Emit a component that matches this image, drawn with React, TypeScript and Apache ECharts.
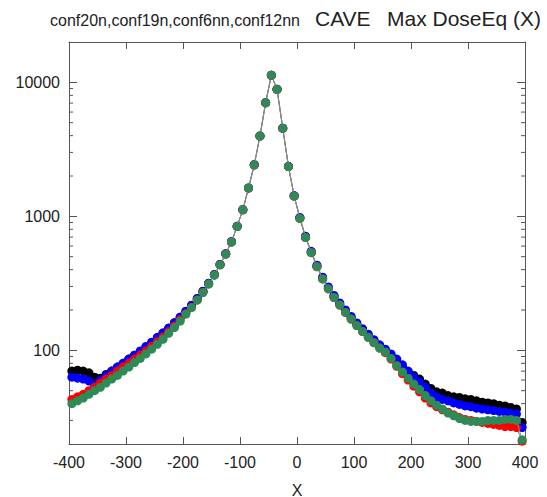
import { useEffect, useRef } from "react";
import * as echarts from "echarts";

const xValues = [
  -395, -385, -375, -365, -355, -345, -335, -325, -315, -305,
  -295, -285, -275, -265, -255, -245, -235, -225, -215, -205,
  -195, -185, -175, -165, -155, -145, -135, -125, -115, -105,
  -95, -85, -75, -65, -55, -45, -35, -25, -15, -5,
  5, 15, 25, 35, 45, 55, 65, 75, 85, 95,
  105, 115, 125, 135, 145, 155, 165, 175, 185, 195,
  205, 215, 225, 235, 245, 255, 265, 275, 285, 295,
  305, 315, 325, 335, 345, 355, 365, 375, 385, 395,
];

// black
const conf20n = [
  70, 71, 70, 68, 63, 62, 66, 70, 75, 80,
  86, 92, 98, 106, 114, 124, 134, 146, 160, 176,
  195, 216, 243, 275, 316, 367, 437, 525, 646, 843,
  1122, 1629, 2427, 3981, 7047, 11298, 8870, 4550, 2360, 1420,
  970, 700, 540, 425, 345, 292, 252, 222, 196, 175,
  157, 142, 129, 118, 108, 100, 92, 82, 75, 69,
  65, 61, 56, 52, 49, 48, 46, 45, 44.5, 43.5,
  43, 42, 41, 40.5, 40, 39, 38.5, 37.5, 36.5, 29,
];

// blue
const conf19n = [
  63, 62, 61, 59, 55, 60, 65, 70, 75, 80,
  86, 92, 99, 107, 115, 125, 135, 147, 161, 177,
  196, 217, 244, 276, 317, 368, 438, 526, 646, 843,
  1122, 1629, 2427, 3981, 7047, 11298, 8870, 4550, 2360, 1430,
  980, 710, 548, 432, 351, 297, 257, 226, 200, 179,
  160, 145, 132, 120, 110, 102, 94, 86, 78, 70,
  63, 58, 53, 48, 45, 43, 42, 40.5, 39.5, 38.5,
  38, 37, 36.5, 36, 35.5, 35, 34.5, 34, 33.5, 26.5,
];

// red
const conf6nn = [
  43, 45, 47, 50, 53, 57, 61, 65, 70, 75,
  80, 86, 92, 99, 107, 116, 126, 138, 152, 169,
  188, 210, 238, 271, 313, 365, 435, 523, 644, 840,
  1120, 1625, 2420, 3975, 7040, 11290, 8860, 4540, 2350, 1415,
  965, 695, 536, 421, 341, 288, 248, 218, 192, 171,
  153, 138, 125, 114, 104, 96, 86, 76, 67, 60,
  54, 49, 44, 40.5, 38, 36, 34.5, 33, 31.5, 30.5,
  30, 29.5, 29, 28.5, 28, 27.5, 27, 27, 26.5, 21,
];

// green
const conf12nn = [
  40, 42, 44, 47, 50, 53, 57, 61, 65, 70,
  75, 81, 87, 94, 102, 111, 121, 134, 148, 165,
  186, 208, 237, 270, 312, 364, 434, 522, 643, 840,
  1120, 1625, 2420, 3975, 7040, 11290, 8860, 4540, 2350, 1415,
  965, 695, 536, 421, 341, 288, 248, 218, 192, 171,
  153, 138, 125, 114, 104, 97, 87, 77, 69, 62,
  56, 51, 46, 42, 39, 36.5, 34, 32.5, 31, 30,
  29.5, 29.5, 29.5, 30, 30, 30, 30.5, 30.5, 30, 21.5,
];

const seriesNames = ["conf20n", "conf19n", "conf6nn", "conf12nn"];
const seriesColors = ["#000000", "#0000ff", "#ff0000", "#2e8b57"];
const yLabelValues = [100, 1000, 10000];
const yMinorTicks = [
  30, 40, 50, 60, 70, 80, 90,
  200, 300, 400, 500, 600, 700, 800, 900,
  2000, 3000, 4000, 5000, 6000, 7000, 8000, 9000,
];
const titleSmall = "conf20n,conf19n,conf6nn,conf12nn";
const titleCave = "CAVE";
const titleMain = "Max DoseEq (X)";

const FONT = "'Liberation Sans', Arial, Helvetica, sans-serif";
const AXIS_COLOR = "#555555";
const TEXT_COLOR = "#222222";

export default function App() {
  const ref = useRef<HTMLDivElement>(null);

  useEffect(() => {
    if (!ref.current) return;
    const chart = echarts.init(ref.current, null, { renderer: "svg" });
    const allData = [conf20n, conf19n, conf6nn, conf12nn];

    const dataSeries = allData.map((vals, k) => ({
      name: seriesNames[k],
      type: "line",
      xAxisIndex: 0,
      yAxisIndex: 0,
      data: xValues.map((x, i) => [x, vals[i]]),
      symbol: "circle",
      symbolSize: 9,
      showSymbol: true,
      itemStyle: { color: seriesColors[k] },
      lineStyle: { color: "#888888", width: 1 },
      z: 3 + k,
    }));

    const minorTickSeries = {
      type: "custom",
      xAxisIndex: 0,
      yAxisIndex: 0,
      silent: true,
      clip: false,
      z: 2,
      data: yMinorTicks.map((v) => [-400, v]),
      renderItem: (_params: any, api: any) => {
        const v = api.value(1);
        const l = api.coord([-400, v]);
        const r = api.coord([400, v]);
        return {
          type: "group",
          children: [
            {
              type: "line",
              shape: { x1: l[0], y1: l[1], x2: l[0] + 4, y2: l[1] },
              style: { stroke: AXIS_COLOR, lineWidth: 1 },
            },
            {
              type: "line",
              shape: { x1: r[0], y1: r[1], x2: r[0] - 4, y2: r[1] },
              style: { stroke: AXIS_COLOR, lineWidth: 1 },
            },
          ],
        };
      },
    };

    const axisLine = { show: true, onZero: false, lineStyle: { color: AXIS_COLOR, width: 1 } };

    chart.setOption({
      animation: false,
      backgroundColor: "#ffffff",
      textStyle: { fontFamily: FONT },
      grid: {
        left: 69,
        right: 22,
        top: 42,
        bottom: 53,
        containLabel: false,
        outerBoundsMode: "none",
      },
      graphic: [
        {
          type: "text",
          x: 50,
          y: 20.5,
          style: {
            text: titleSmall,
            fontSize: 16,
            fontFamily: FONT,
            fill: TEXT_COLOR,
            align: "left",
            verticalAlign: "middle",
          },
        },
        {
          type: "text",
          x: 315,
          y: 18.7,
          style: {
            text: titleCave,
            fontSize: 21,
            fontFamily: FONT,
            fill: TEXT_COLOR,
            align: "left",
            verticalAlign: "middle",
          },
        },
        {
          type: "text",
          x: 387,
          y: 18.7,
          style: {
            text: titleMain,
            fontSize: 21,
            fontFamily: FONT,
            fill: TEXT_COLOR,
            align: "left",
            verticalAlign: "middle",
          },
        },
      ],
      xAxis: [
        {
          type: "value",
          position: "bottom",
          min: -400,
          max: 400,
          interval: 100,
          axisLine,
          axisTick: { show: true, inside: true, length: 7, lineStyle: { color: AXIS_COLOR } },
          axisLabel: { margin: 10, fontSize: 16, color: TEXT_COLOR, fontFamily: FONT },
          splitLine: { show: false },
          name: "X",
          nameLocation: "middle",
          nameGap: 38,
          nameTextStyle: { fontSize: 16, color: TEXT_COLOR, fontFamily: FONT },
        },
        {
          type: "value",
          position: "top",
          min: -400,
          max: 400,
          interval: 100,
          axisLine,
          axisTick: { show: true, inside: true, length: 7, lineStyle: { color: AXIS_COLOR } },
          axisLabel: { show: false },
          splitLine: { show: false },
        },
      ],
      yAxis: [
        {
          type: "log",
          logBase: 10,
          position: "left",
          min: 20,
          max: 20000,
          axisLine,
          axisTick: { show: true, inside: true, length: 8, lineStyle: { color: AXIS_COLOR } },
          axisLabel: {
            margin: 9,
            fontSize: 16,
            color: TEXT_COLOR,
            fontFamily: FONT,
            formatter: (v: number) => {
              const r = Math.round(v);
              return yLabelValues.indexOf(r) >= 0 ? String(r) : "";
            },
          },
          splitLine: { show: false },
        },
        {
          type: "log",
          logBase: 10,
          position: "right",
          min: 20,
          max: 20000,
          axisLine,
          axisTick: { show: true, inside: true, length: 8, lineStyle: { color: AXIS_COLOR } },
          axisLabel: { show: false },
          splitLine: { show: false },
        },
      ],
      series: [minorTickSeries, ...dataSeries],
    });

    return () => chart.dispose();
  }, []);

  return (
    <div
      ref={ref}
      style={{ position: "absolute", left: 0, top: 0, width: 547, height: 497 }}
    />
  );
}
